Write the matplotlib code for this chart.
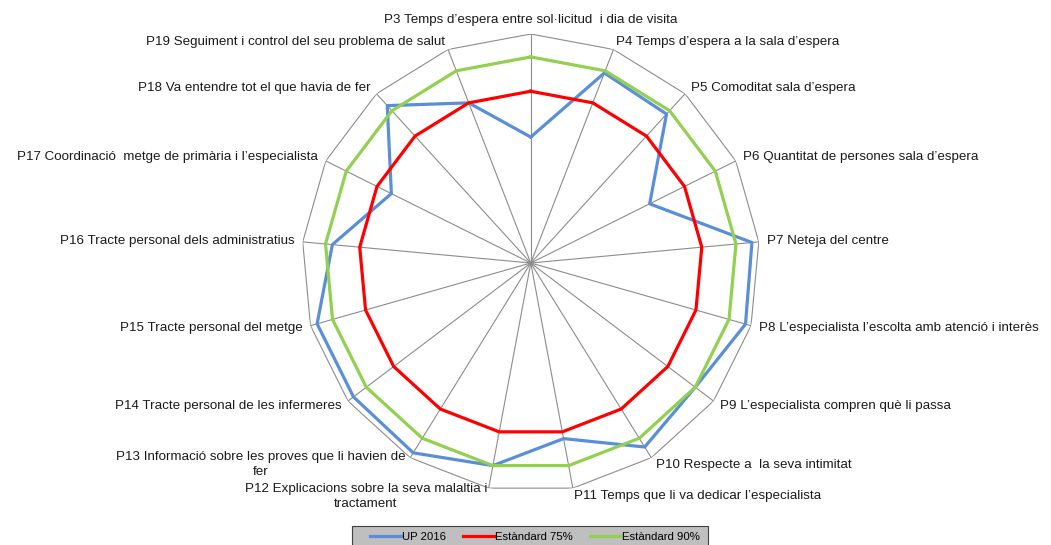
import numpy as np
import matplotlib
matplotlib.use("Agg")
import matplotlib.pyplot as plt
from matplotlib.patches import Rectangle

plt.rcParams['font.family'] = ['Liberation Sans', 'DejaVu Sans']

# categories, clockwise from the top
labels = [
    "P3 Temps d’espera entre sol·licitud  i dia de visita",
    "P4 Temps d’espera a la sala d’espera",
    "P5 Comoditat sala d’espera",
    "P6 Quantitat de persones sala d’espera",
    "P7 Neteja del centre",
    "P8 L’especialista l’escolta amb atenció i interès",
    "P9 L’especialista compren què li passa",
    "P10 Respecte a  la seva intimitat",
    "P11 Temps que li va dedicar l’especialista",
    "P12 Explicacions sobre la seva malaltia i\ntractament",
    "P13 Informació sobre les proves que li havien de\nfer",
    "P14 Tracte personal de les infermeres",
    "P15 Tracte personal del metge",
    "P16 Tracte personal dels administratius",
    "P17 Coordinació  metge de primària i l’especialista",
    "P18 Va entendre tot el que havia de fer",
    "P19 Seguiment i control del seu problema de salut",
]

up2016 = [55, 89, 88, 58, 97, 97.5, 90, 94.5, 78, 90, 97.5, 97, 97, 87, 68, 93, 75]
std75 = [75] * 17
std90 = [90] * 17

series_names = ["UP 2016", "Estàndard 75%", "Estàndard 90%"]
colors = ["#5A8FD8", "#FF0000", "#92D050"]

n = len(labels)
theta = np.arange(n) * 2 * np.pi / n
tclosed = np.append(theta, theta[0])

fig = plt.figure(figsize=(10.51, 5.45), dpi=100)
ax = fig.add_axes([0.2871, 0.0972, 0.4358, 0.8404], projection='polar')
ax.set_theta_zero_location('N')
ax.set_theta_direction(-1)
ax.set_ylim(0, 100)
ax.grid(False)
ax.spines['polar'].set_visible(False)
ax.set_xticks([])
ax.set_yticks([])

# outer polygon and spokes
ax.plot(tclosed, [100] * (n + 1), color='#8c8c8c', lw=0.8, zorder=1)
for t in theta:
    ax.plot([t, t], [0, 100], color='#8c8c8c', lw=0.8, zorder=1)

for vals, name, c in zip([up2016, std75, std90], series_names, colors):
    ax.plot(tclosed, vals + [vals[0]], color=c, lw=2.3, label=name, zorder=3)

# category labels placed just outside each vertex
k = 6
for t, lab in zip(theta, labels):
    s, c = np.sin(t), np.cos(t)
    if abs(s) < 0.1:
        ha = 'center'
    elif s > 0:
        ha = 'left'
    else:
        ha = 'right'
    va = 'bottom' if c > 0.99 else 'center'
    ax.annotate(lab, xy=(t, 100), xytext=(k * s, k * c), textcoords='offset points',
                ha=ha, va=va, fontsize=9.6, color='#1a1a1a', multialignment='center',
                linespacing=1.3, annotation_clip=False)

# legend box (grey, cut at the bottom edge like the original)
fig.patches.append(Rectangle((352 / 1051, -0.01), 356 / 1051, 0.01 + 19 / 545,
                             transform=fig.transFigure, facecolor='#bfbfbf',
                             edgecolor='#404040', lw=0.8, zorder=0))
leg = fig.legend(loc='center', bbox_to_anchor=(0.509, 0.0147), ncol=3,
                 fontsize=8.2, frameon=False, handlelength=2.7, columnspacing=1.5,
                 handletextpad=0.1, borderpad=0, borderaxespad=0)

fig.savefig("out.png", dpi=100)
